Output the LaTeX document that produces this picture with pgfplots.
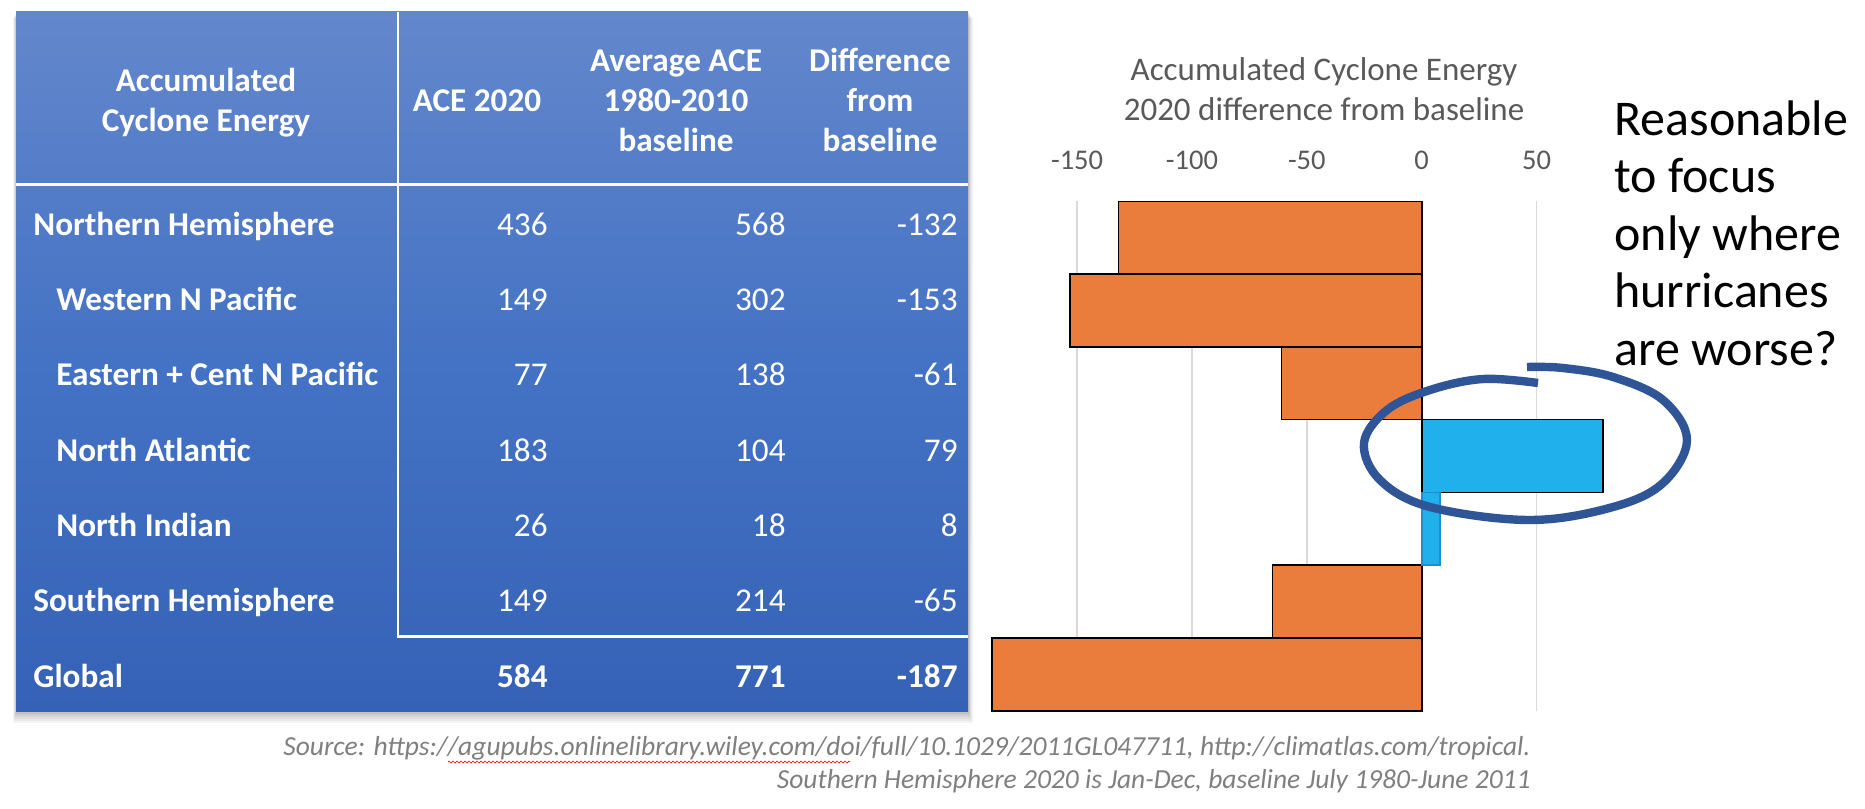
\documentclass[border=0pt]{standalone}
\usepackage{pgfplots}
\pgfplotsset{compat=1.18}
\usepackage{fontspec}
\setmainfont{Carlito}
\usetikzlibrary{decorations.pathmorphing}
\definecolor{barorange}{HTML}{EA7D3C}
\definecolor{barblue}{HTML}{20B0EC}
\definecolor{barblueedge}{HTML}{1A8FD4}
\definecolor{ellblue}{HTML}{2F5597}
\definecolor{titlegray}{HTML}{595959}
\definecolor{srcgray}{HTML}{7F7F7F}
\definecolor{gridgray}{HTML}{D9D9D9}
\definecolor{tabtop}{HTML}{6387CC}
\definecolor{tabmid}{HTML}{4472C4}
\definecolor{tabbot}{HTML}{3562B6}
\newcommand\fsz[1]{\fontsize{#1}{#1}\selectfont}

\begin{document}
\begin{tikzpicture}[x=0.5pt,y=-0.5pt]
\useasboundingbox (0,0) rectangle (1865,809);
\coordinate (AX) at (962.2,711);

% ---------- table ----------
\foreach \d in {1,...,6}{\fill[black,opacity=0.045] (16-0.5*\d,11.7+\d) rectangle (968+0.8*\d,711.7+1.8*\d);}
\shade[top color=tabtop, bottom color=tabbot, middle color=tabmid] (16,11.7) rectangle (968,711.7);
\draw[white,line width=1.5pt] (16,184.3) -- (968,184.3);
\draw[white,line width=1.3pt] (398,11.7) -- (398,636.5) -- (968,636.5);

\begin{scope}[every node/.style={inner sep=0pt, text=white, font=\fsz{16.6}\bfseries}]
\node[anchor=base] at (206,91) {Accumulated};
\node[anchor=base] at (206,131) {Cyclone Energy};
\node[anchor=base] at (477,111) {ACE 2020};
\node[anchor=base] at (676,71) {Average ACE};
\node[anchor=base] at (676,111) {1980-2010};
\node[anchor=base] at (676,151) {baseline};
\node[anchor=base] at (880,71) {Difference};
\node[anchor=base] at (880,111) {from};
\node[anchor=base] at (880,151) {baseline};
% row labels
\node[anchor=base west] at (33,235.5) {Northern Hemisphere};
\node[anchor=base west] at (56,310.5) {Western N Pacific};
\node[anchor=base west] at (56,385.5) {Eastern + Cent N Pacific};
\node[anchor=base west] at (56,461.5) {North Atlantic};
\node[anchor=base west] at (56,536.5) {North Indian};
\node[anchor=base west] at (33,611.5) {Southern Hemisphere};
\node[anchor=base west] at (33,687.5) {Global};
\end{scope}
\begin{scope}[every node/.style={inner sep=0pt, text=white, font=\fsz{16.6}, anchor=base east}]
\node at (548,235.5) {436}; \node at (786,235.5) {568}; \node at (958,235.5) {-132};
\node at (548,310.5) {149}; \node at (786,310.5) {302}; \node at (958,310.5) {-153};
\node at (548,385.5) {77};  \node at (786,385.5) {138}; \node at (958,385.5) {-61};
\node at (548,461.5) {183}; \node at (786,461.5) {104}; \node at (958,461.5) {79};
\node at (548,536.5) {26};  \node at (786,536.5) {18};  \node at (958,536.5) {8};
\node at (548,611.5) {149}; \node at (786,611.5) {214}; \node at (958,611.5) {-65};
\node[font=\fsz{16.6}\bfseries] at (548,687.5) {584};
\node[font=\fsz{16.6}\bfseries] at (786,687.5) {771};
\node[font=\fsz{16.6}\bfseries] at (958,687.5) {-187};
\end{scope}

% ---------- chart ----------
\begin{axis}[
  at={(AX)}, anchor=south west,
  scale only axis, width=344.6pt, height=255pt,
  xmin=-200, xmax=100, ymin=-0.5, ymax=6.5,
  xtick={-150,-100,-50,0,50}, xticklabels={-150,-100,-50,0,50},
  xticklabel pos=upper, ytick=\empty,
  axis line style={draw=none}, major tick length=0pt,
  xmajorgrids, grid style={draw=gridgray, line width=0.75pt},
  xticklabel style={anchor=base, yshift=16pt, font=\fsz{14.25}, text=titlegray, inner sep=0pt},
  /pgf/number format/assume math mode=true,
]
\addplot[xbar, bar width=1, bar shift=0pt, fill=barorange, draw=black, line width=0.85pt]
  coordinates {(-132,6) (-153,5) (-61,4) (-65,1) (-187,0)};
\addplot[xbar, bar width=1, bar shift=0pt, fill=barblue, draw=black, line width=0.85pt]
  coordinates {(79,3)};
\addplot[xbar, bar width=1, bar shift=0pt, fill=barblue, draw=barblueedge, line width=0.85pt]
  coordinates {(8,2)};
\end{axis}

\node[anchor=base, font=\fsz{16.5}, text=titlegray, inner sep=0pt] at (1324,80) {Accumulated Cyclone Energy};
\node[anchor=base, font=\fsz{16.5}, text=titlegray, inner sep=0pt] at (1324,120) {2020 difference from baseline};

% ---------- annotation ellipse ----------
\draw[ellblue, line width=4.2pt] plot[smooth, tension=0.6] coordinates {(1538,383) (1483,379) (1430,390) (1387,410) (1364,443) (1380,480) (1430,507) (1530,520) (1613,507) (1663,483) (1687,440) (1663,400) (1613,377) (1563,368) (1527,367)};

% ---------- right text ----------
\begin{scope}[every node/.style={inner sep=0pt, anchor=base west, font=\fsz{25}, text=black}]
\node at (1614,135) {Reasonable};
\node at (1614,192.5) {to focus};
\node at (1614,250) {only where};
\node at (1614,307.5) {hurricanes};
\node at (1614,365) {are worse?};
\end{scope}

% ---------- source ----------
\begin{scope}[every node/.style={inner sep=0pt, anchor=base east, font=\fsz{13.75}\itshape, text=srcgray}]
\node at (1531,755) {Source: https://agupubs.onlinelibrary.wiley.com/doi/full/10.1029/2011GL047711, http://climatlas.com/tropical.};
\node at (1531,788) {Southern Hemisphere 2020 is Jan-Dec, baseline July 1980-June 2011};
\end{scope}
\draw[red, line width=0.35pt, decorate, decoration={zigzag, amplitude=0.5pt, segment length=2pt}] (448,762) -- (850,762);
\end{tikzpicture}
\end{document}
